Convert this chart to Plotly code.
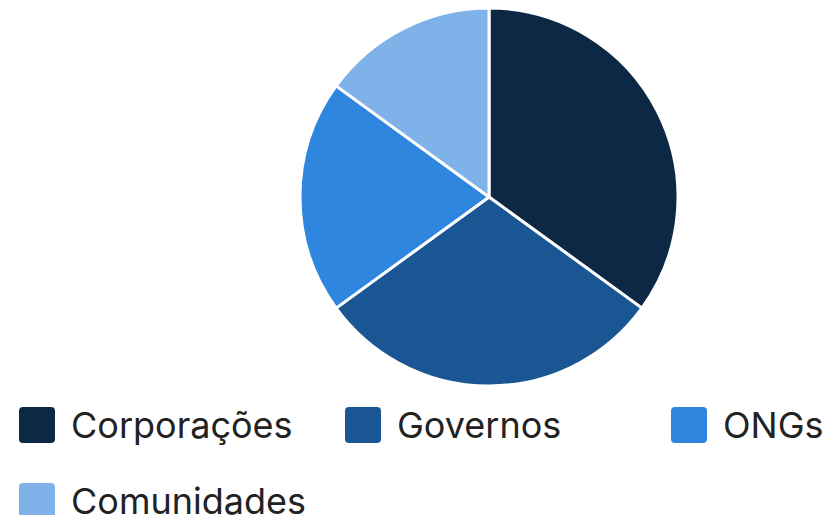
import plotly.graph_objects as go

categories = ["Corporações", "Governos", "ONGs", "Comunidades"]
values = [35, 30, 20, 15]
colors = ["#0d2844", "#1b5694", "#2e86de", "#7fb2e8"]

W, H = 830, 515

fig = go.Figure()
fig.add_trace(go.Pie(
    labels=categories,
    values=values,
    sort=False,
    direction="clockwise",
    rotation=0,
    marker=dict(colors=colors, line=dict(color="white", width=3)),
    textinfo="none",
    hoverinfo="label+percent",
    showlegend=False,
    domain=dict(x=[300 / W, 678 / W], y=[1 - 387 / H, 1 - 7 / H]),
))

# manual legend (large rounded swatches)
def px_x(v):
    return v / W

def px_y(v):
    return 1 - v / H

def rounded_rect(x0, y0, x1, y1, r):
    return (f"M {px_x(x0 + r)},{px_y(y0)} L {px_x(x1 - r)},{px_y(y0)} "
            f"Q {px_x(x1)},{px_y(y0)} {px_x(x1)},{px_y(y0 + r)} "
            f"L {px_x(x1)},{px_y(y1 - r)} Q {px_x(x1)},{px_y(y1)} {px_x(x1 - r)},{px_y(y1)} "
            f"L {px_x(x0 + r)},{px_y(y1)} Q {px_x(x0)},{px_y(y1)} {px_x(x0)},{px_y(y1 - r)} "
            f"L {px_x(x0)},{px_y(y0 + r)} Q {px_x(x0)},{px_y(y0)} {px_x(x0 + r)},{px_y(y0)} Z")

col_x = [19, 345, 671]
row_y = [425, 501]
shapes = []
annotations = []
for i, (cat, col) in enumerate(zip(categories, colors)):
    cx = col_x[i % 3]
    cy = row_y[i // 3]
    shapes.append(dict(type="path", xref="paper", yref="paper",
                       path=rounded_rect(cx, cy - 18, cx + 36, cy + 18, 4),
                       fillcolor=col, line=dict(width=0)))
    annotations.append(dict(text=cat, x=px_x(cx + 50), y=px_y(cy), xref="paper", yref="paper",
                            xanchor="left", yanchor="middle", showarrow=False,
                            font=dict(family="Inter", size=36, color="#222222")))

fig.update_layout(
    width=W, height=H,
    margin=dict(l=0, r=0, t=0, b=0),
    paper_bgcolor="white",
    plot_bgcolor="white",
    shapes=shapes,
    annotations=annotations,
    font=dict(family="Inter"),
)

fig.write_html("out.html", config={"displayModeBar": False})
